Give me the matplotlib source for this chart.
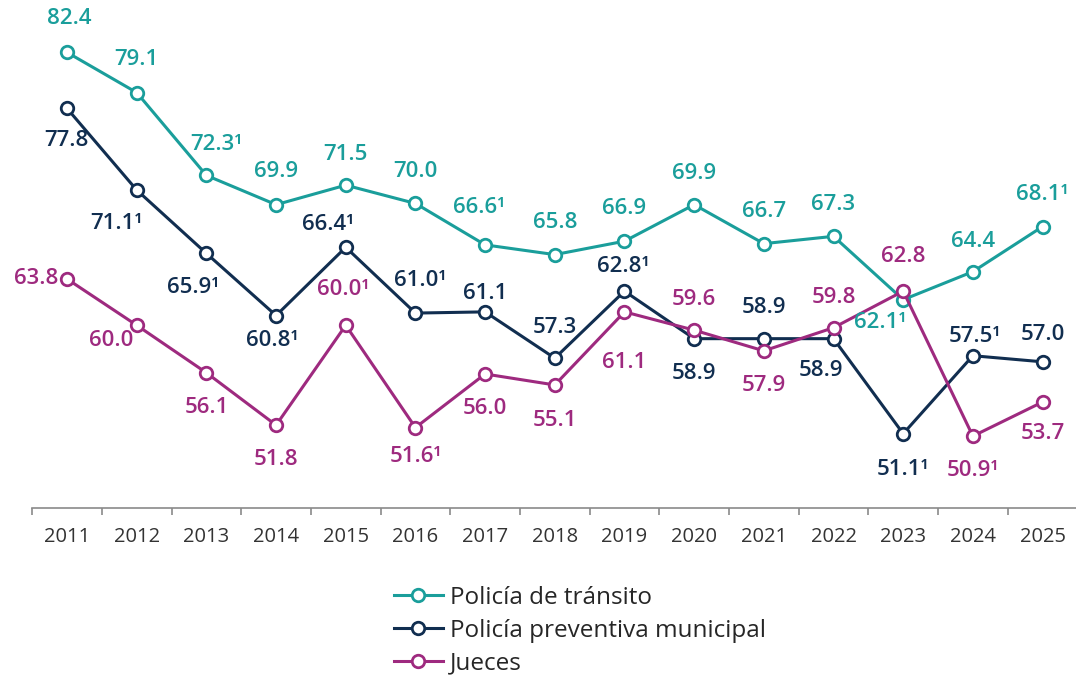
import numpy as np
import matplotlib.pyplot as plt
from matplotlib.ticker import FixedLocator

plt.rcParams['font.family'] = ['Open Sans', 'DejaVu Sans']

years = [str(y) for y in range(2011, 2026)]

transito = [82.4, 79.1, 72.3, 69.9, 71.5, 70.0, 66.6, 65.8, 66.9, 69.9, 66.7, 67.3, 62.1, 64.4, 68.1]
preventiva = [77.8, 71.1, 65.9, 60.8, 66.4, 61.0, 61.1, 57.3, 62.8, 58.9, 58.9, 58.9, 51.1, 57.5, 57.0]
jueces = [63.8, 60.0, 56.1, 51.8, 60.0, 51.6, 56.0, 55.1, 61.1, 59.6, 57.9, 59.8, 62.8, 50.9, 53.7]

# years whose figure carries note 1
nota_transito = [2, 6, 12, 14]
nota_preventiva = [1, 2, 3, 4, 5, 8, 12, 13]
nota_jueces = [4, 5, 13]

names = ['Policía de tránsito', 'Policía preventiva municipal', 'Jueces']
colors = ['#1a9e9b', '#112e50', '#9e2a7f']

# label offsets in pixels (dx, dy), positive dy = above the point
off_transito = [(2, 34), (0, 33), (10, 31), (0, 33), (0, 31), (0, 32), (-6, 37), (0, 32),
                (0, 33), (0, 31), (0, 32), (0, 32), (-23, -23), (0, 30), (0, 32)]
off_preventiva = [(-1, -32), (-20, -33), (-13, -34), (-4, -25), (-18, 23), (5, 33), (0, 18), (0, 31),
                  (-1, 25), (0, -35), (0, 31), (-13, -32), (0, -36), (2, 19), (0, 27)]
off_jueces = [(-31, 0), (-26, -15), (0, -35), (0, -34), (-3, 36), (0, -29), (0, -35), (0, -36),
              (0, -51), (0, 31), (0, -35), (0, 30), (0, 35), (0, -34), (0, -31)]

series = [(transito, nota_transito, off_transito),
          (preventiva, nota_preventiva, off_preventiva),
          (jueces, nota_jueces, off_jueces)]

fig = plt.figure(figsize=(10.76, 6.78), dpi=100)
ax = fig.add_axes([32.2 / 1076, 1 - 508 / 678, 1 - 32.2 / 1076, 508 / 678])
x = np.arange(len(years))

for i, (vals, notas, offs) in enumerate(series):
    ax.plot(x, vals, color=colors[i], lw=2.2, marker='o', ms=9, mew=2,
            mfc='white', mec=colors[i], label=names[i], zorder=3 + i, clip_on=False)
    for j, v in enumerate(vals):
        txt = f'{v:.1f}' + ('¹' if j in notas else '')
        ax.annotate(txt, (x[j], v), xytext=offs[j], textcoords='offset pixels',
                    ha='center', va='center', fontsize=16, fontweight='semibold',
                    color=colors[i], zorder=10)

ax.set_xlim(-0.5, 14.48)
ax.set_ylim(45, 86.7)
for s in ['left', 'top', 'right']:
    ax.spines[s].set_visible(False)
ax.spines['bottom'].set_color('#8a8a8a')
ax.spines['bottom'].set_linewidth(1.2)
ax.set_yticks([])
ax.set_xticks(x)
ax.set_xticklabels(years, fontsize=14.5, color='#333333')
ax.xaxis.set_minor_locator(FixedLocator(np.arange(-0.5, 14.0, 1.0)))
ax.tick_params(axis='x', which='major', length=0, pad=14)
ax.tick_params(axis='x', which='minor', length=5, width=1.2, color='#8a8a8a')

fig.legend(loc='upper left', bbox_to_anchor=(394 / 1076, 1 - 586 / 678), frameon=False,
           fontsize=17.5, handlelength=2.0, handletextpad=0.3, labelspacing=0.36,
           labelcolor='#262626', borderaxespad=0, borderpad=0)

fig.savefig('out.png', dpi=100)
